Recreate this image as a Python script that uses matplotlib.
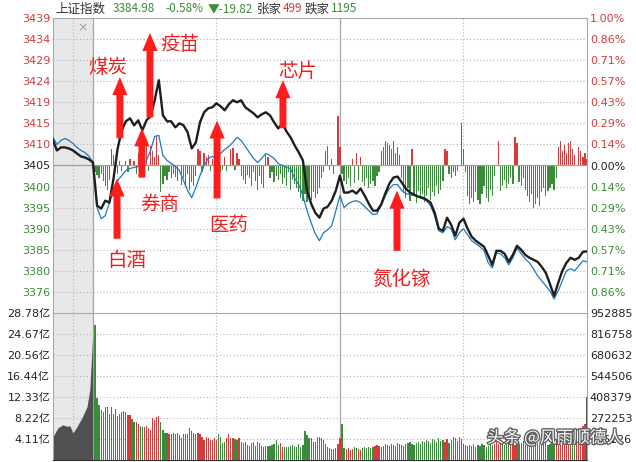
import matplotlib.pyplot as plt
import matplotlib.patheffects as pe
import numpy as np

plt.rcParams['font.family'] = ['DejaVu Sans', 'Noto Sans CJK SC']
CJK = ['Noto Sans CJK SC', 'DejaVu Sans']

RED = '#d63a3a'
GREEN = '#3a8c3a'
GRID = '#b4b4b4'
BORDER = '#a8a8a8'

prev_close = 3404.80
close = 3384.98
chg_pct = -0.58
chg = -19.82
up_count = 499
down_count = 1195

# index (black) and unweighted average (blue), one sample every 2 minutes, 9:30 .. 15:00
price_min = list(range(0, 241, 2))
index_line = [
    3405.50, 3395.54, 3394.84, 3396.69, 3396.23, 3401.79, 3408.74, 3412.91, 3415.00, 3415.69,
    3414.07, 3415.23, 3412.91, 3415.23, 3416.15, 3419.86, 3424.49, 3416.38, 3415.00, 3415.00,
    3413.60, 3414.53, 3414.07, 3412.45, 3408.74, 3410.13, 3414.76, 3417.08, 3418.00, 3418.24,
    3419.16, 3418.47, 3417.54, 3418.93, 3419.86, 3419.39, 3419.86, 3418.24, 3417.54, 3416.85,
    3415.92, 3416.61, 3417.08, 3416.38, 3414.76, 3413.37, 3414.53, 3412.68, 3411.29, 3409.43,
    3407.81, 3405.96, 3399.01, 3396.00, 3393.91, 3392.75, 3394.84, 3395.30, 3396.69, 3399.01,
    3402.48, 3398.55, 3398.55, 3399.01, 3398.32, 3399.48, 3397.85, 3396.00, 3394.38, 3394.38,
    3395.77, 3398.32, 3400.63, 3402.02, 3402.25, 3400.86, 3399.48, 3398.55, 3398.08, 3397.62,
    3397.39, 3396.93, 3396.23, 3393.91, 3390.21, 3389.74, 3392.75, 3391.13, 3388.59, 3391.60,
    3392.53, 3390.21, 3388.35, 3387.43, 3386.73, 3386.04, 3383.95, 3381.87, 3385.11, 3385.11,
    3384.42, 3382.57, 3384.19, 3386.27, 3385.35, 3384.19, 3383.50, 3383.03, 3382.57, 3381.41,
    3380.02, 3377.47, 3374.69, 3377.70, 3380.48, 3382.34, 3383.50, 3383.03, 3383.50, 3384.88,
    3384.98]
avg_line = [
    3405.50, 3395.07, 3392.53, 3393.22, 3396.23, 3399.01, 3401.33, 3402.48, 3403.64, 3404.11,
    3404.34, 3404.57, 3405.26, 3405.96, 3408.28, 3411.52, 3411.75, 3407.12, 3405.96, 3405.26,
    3404.57, 3403.64, 3401.33, 3399.01, 3397.39, 3399.71, 3402.48, 3404.80, 3406.42, 3406.89,
    3406.65, 3407.58, 3408.51, 3409.20, 3410.13, 3411.29, 3410.59, 3409.20, 3407.81, 3406.42,
    3405.50, 3406.42, 3407.58, 3407.12, 3406.42, 3405.26, 3404.80, 3404.34, 3404.11, 3401.79,
    3400.40, 3397.85, 3394.38, 3391.60, 3389.05, 3387.43, 3389.28, 3389.98, 3390.91, 3394.38,
    3397.85, 3395.07, 3396.00, 3396.46, 3396.69, 3396.23, 3395.30, 3394.38, 3393.45, 3393.68,
    3395.54, 3397.85, 3399.48, 3400.40, 3400.40, 3399.01, 3398.32, 3398.08, 3397.85, 3397.62,
    3397.16, 3396.69, 3395.54, 3393.22, 3389.74, 3389.28, 3390.67, 3390.21, 3387.66, 3389.28,
    3390.21, 3388.82, 3387.43, 3386.73, 3386.04, 3385.11, 3382.34, 3381.17, 3384.65, 3384.42,
    3383.50, 3381.87, 3383.50, 3385.81, 3384.42, 3383.26, 3382.34, 3380.95, 3379.33, 3378.17,
    3377.00, 3375.85, 3373.99, 3375.85, 3378.17, 3380.48, 3380.95, 3380.48, 3381.63, 3382.79,
    3382.56]

# call auction area (grey zone before 9:30)
pre_min = [-19.4, -17.5, -15.5, -13.6, -11.7, -9.7, -7.8, -5.8, -3.9, -1.9]
pre_index = [3410.59, 3408.28, 3408.97, 3408.97, 3408.74, 3408.28, 3407.58, 3406.89, 3406.65, 3406.19]
pre_avg = [3411.29, 3409.66, 3410.59, 3411.05, 3410.59, 3409.89, 3408.97, 3408.28, 3407.81, 3406.89]
pre_vol_min = [-19.4, -17.0, -14.6, -12.6, -11.2, -9.7, -7.8, -5.3, -2.9, -1.5, -0.15]
pre_vol = [4.6, 6.3, 6.9, 6.6, 6.7, 5.3, 6.5, 8.3, 10.4, 13.8, 24.3]

# buy/sell strength bars per minute (arbitrary units)
strength = [
    -6, -9, -12, -8, -15, -20, -24, -14, 16, 10,
    6, -8, 4, -5, 0, 4, -6, 6, 0, 4,
    -8, 12, -6, 15, 18, 25, -5, 19, 14, 8,
    29, 10, -26, -18, -10, -14, -6, -12, -8, -11,
    -15, 0, -19, -12, -21, -8, -24, -16, -20, -10,
    16, 14, -6, 12, 8, 10, -5, 6, 0, -8,
    5, -6, -4, 8, -5, 0, 16, 17, -4, 12,
    6, -10, -14, -18, -9, -12, -20, -6, -15, -24,
    -10, -18, -22, 10, 8, -12, -6, -16, -10, -14,
    -8, -18, -12, -20, -6, -24, -14, -18, -22, -26,
    -32, -35, -28, -36, -30, -34, -26, -32, -28, -22,
    -12, -6, 14, 19, -4, 6, -8, 0, 49, 18,
    -8, -15, -18, -12, -20, 6, -17, 12, -14, 8,
    -16, -20, -12, -22, -18, -15, -20, -10, -6, 14,
    18, 24, 22, 20, 16, 24, 12, 18, 10, -12,
    -27, -32, -22, -35, 16, -30, -37, -25, -33, -28,
    -36, -30, -22, -34, -26, -30, -20, -28, -24, -15,
    16, 14, -8, -12, -6, -10, -5, 0, 42, 16,
    -6, -30, -38, -32, -36, -26, -34, -38, -28, -20,
    -32, -36, -24, -30, -10, 0, 24, -25, -20, -14,
    -22, -18, -12, -18, 28, 22, -16, -20, -12, -24,
    -30, -36, -28, -42, -38, -32, -40, -26, -22, -30,
    -25, -22, -18, -24, -12, 18, 24, 14, 20, 12,
    22, 24, 16, 10, 0, 18, 14, 8, 12, 6]

# turnover per minute, 亿
volume = [
    26.4, 12.2, 10.8, 9.7, 9.3, 10.4, 10.4, 9.1, 10.4, 9.1,
    9.9, 8.7, 9.1, 9.3, 9.5, 9.3, 8.9, 8.9, 8.1, 7.5,
    7.5, 7.1, 6.6, 6.4, 6.4, 6.7, 6.2, 5.9, 8.2, 7.9,
    8.4, 8.7, 7.5, 5.9, 5.3, 5.3, 5.0, 5.0, 5.3, 5.0,
    5.3, 4.8, 4.3, 5.0, 5.0, 5.0, 6.2, 5.6, 5.3, 5.0,
    5.3, 5.0, 4.6, 3.9, 4.6, 4.3, 3.9, 3.9, 4.3, 3.9,
    5.1, 4.6, 3.4, 3.6, 4.3, 5.0, 4.3, 4.3, 4.1, 3.9,
    4.3, 3.6, 3.4, 3.6, 3.0, 2.8, 3.4, 3.6, 2.8, 3.6,
    3.4, 2.8, 2.6, 2.8, 2.8, 2.8, 3.0, 3.2, 3.9, 3.0,
    3.4, 2.6, 2.6, 2.6, 2.6, 2.8, 3.0, 2.8, 2.6, 3.2,
    2.6, 3.0, 5.7, 4.9, 4.3, 4.3, 3.6, 3.6, 4.6, 4.6,
    4.3, 3.9, 3.2, 2.6, 2.4, 2.2, 2.2, 2.4, 3.2, 4.3,
    7.1, 2.3, 2.2, 2.4, 2.0, 2.2, 2.6, 2.4, 2.2, 2.0,
    2.4, 2.6, 2.4, 2.6, 2.4, 2.6, 2.8, 3.0, 2.8, 2.6,
    2.8, 3.2, 3.0, 2.8, 3.2, 3.0, 2.8, 3.4, 3.2, 3.0,
    2.8, 3.2, 3.4, 3.6, 3.2, 3.0, 3.4, 3.6, 3.2, 3.8,
    3.6, 4.0, 3.8, 3.4, 4.2, 4.0, 3.6, 4.4, 3.8, 4.0,
    3.6, 4.2, 3.4, 4.0, 4.6, 4.4, 3.8, 4.6, 4.2, 3.2,
    3.0, 2.8, 3.0, 2.8, 3.2, 2.6, 3.0, 2.8, 3.2, 3.0,
    2.6, 2.8, 3.4, 3.0, 3.2, 3.6, 3.2, 3.8, 3.4, 3.0,
    3.6, 3.8, 3.2, 3.4, 3.0, 3.6, 3.2, 3.4, 3.8, 3.0,
    3.2, 3.6, 3.4, 3.0, 3.2, 3.4, 3.0, 3.2, 3.6, 3.4,
    3.0, 3.2, 3.8, 3.4, 3.6, 3.2, 3.0, 3.4, 3.6, 4.0,
    4.6, 3.8, 5.0, 4.2, 5.6, 4.8, 6.2, 6.6, 7.1, 12.4]

left_labels = ['3439', '3434', '3429', '3424', '3419', '3415', '3410', '3405',
               '3400', '3395', '3390', '3385', '3380', '3376']
right_labels = ['1.00%', '0.86%', '0.71%', '0.57%', '0.43%', '0.29%', '0.14%', '0.00%',
                '0.14%', '0.29%', '0.43%', '0.57%', '0.71%', '0.86%']
vol_left = ['28.78亿', '24.67亿', '20.56亿', '16.44亿', '12.33亿', '8.22亿', '4.11亿']
vol_right = ['952885', '816758', '680632', '544506', '408379', '272253', '136126']
vol_top = 28.78

# label, arrow minute, arrow base, arrow tip, text minute, text price
notes = [
    ('煤炭', 13.1, 3411.1, 3425.2, 7.3, 3427.5),
    ('疫苗', 27.7, 3415.9, 3435.4, 42.3, 3432.8),
    ('芯片', 92.3, 3413.4, 3424.5, 99.6, 3426.6),
    ('券商', 23.8, 3402.0, 3413.4, 32.6, 3395.8),
    ('白酒', 11.7, 3387.9, 3401.8, 16.5, 3382.8),
    ('医药', 60.3, 3397.2, 3415.2, 66.1, 3390.9),
    ('氮化镓', 147.7, 3385.1, 3399.0, 149.7, 3378.6),
]

W, H = 636, 462
fig = plt.figure(figsize=(W / 100, H / 100), dpi=100)


def box(l, t, r, b):
    return [l / W, 1 - b / H, (r - l) / W, (b - t) / H]


ax = fig.add_axes(box(53, 18, 587, 313))
axv = fig.add_axes(box(53, 313, 587, 460))
x0, x1 = -19.4, 240
dotted = (0, (1, 2))

# ---- price panel
span = prev_close * 0.01
ax.set_xlim(x0, x1)
ax.set_ylim(prev_close - span, prev_close + span)
ticks = [prev_close + span * (7 - i) / 7 for i in range(14)]
ax.axvspan(x0, 0, color='#e8e8e8', zorder=0, lw=0)
for t in ticks[1:]:
    if abs(t - prev_close) > 0.01:
        ax.axhline(t, color=GRID, lw=0.8, ls=dotted, zorder=1)
for v in [-9.7, 60, 180]:
    ax.axvline(v, color=GRID, lw=0.8, ls=dotted, zorder=1)
for v in [0, 120]:
    ax.axvline(v, color=BORDER, lw=0.9, zorder=1)

bar_min = np.arange(1, 241)
scale = span / 147.0
s = np.array(strength)
ax.bar(bar_min, s * scale, bottom=prev_close, width=0.6,
       color=[RED if v > 0 else GREEN for v in s], lw=0, zorder=2, antialiased=False)
ax.axhline(prev_close, color='#a0a0a0', lw=0.9, zorder=2)

ax.plot(pre_min + price_min, pre_avg + avg_line, color='#1c78c0', lw=0.9, zorder=4)
ax.plot(pre_min + price_min, pre_index + index_line, color='#1e1e1e', lw=1.7, zorder=5)

for label, am, a0, a1, tm, tp in notes:
    ax.annotate('', xy=(am, a1), xytext=(am, a0),
                arrowprops=dict(arrowstyle='simple,head_length=1.3,head_width=1.1,tail_width=0.5',
                                color='#ff1c1c', lw=0, shrinkA=0, shrinkB=0, mutation_scale=10),
                zorder=6)
    ax.text(tm, tp, label, family=CJK, fontsize=14, color='#f02020',
            ha='center', va='center', zorder=6)
ax.text(-4.9, 3436.5, '×', color='#a0a0a0', fontsize=9, ha='center', va='center')

ax.set_xticks([])
ax.set_yticks(ticks)
ax.set_yticklabels(left_labels, fontsize=8)
ax.tick_params(axis='y', length=0, pad=2)
for i, lab in enumerate(ax.get_yticklabels()):
    lab.set_color(RED if i < 7 else ('#222222' if i == 7 else GREEN))
for side in ['top', 'left', 'right']:
    ax.spines[side].set_color(BORDER)
ax.spines['bottom'].set_visible(False)

axr = ax.twinx()
axr.set_ylim(-1, 1)
axr.set_yticks([(7 - i) / 7 for i in range(14)])
axr.set_yticklabels(right_labels, fontsize=8)
axr.tick_params(axis='y', length=0, pad=2)
for i, lab in enumerate(axr.get_yticklabels()):
    lab.set_color(RED if i < 7 else ('#222222' if i == 7 else GREEN))
for side in axr.spines:
    axr.spines[side].set_visible(False)

# ---- volume panel
axv.set_xlim(x0, x1)
axv.set_ylim(0, vol_top)
axv.axvspan(x0, 0, color='#e8e8e8', zorder=0, lw=0)
vticks = [vol_top * (7 - i) / 7 for i in range(7)]
for t in vticks[1:]:
    axv.axhline(t, color=GRID, lw=0.8, ls=dotted, zorder=1)
for v in [-9.7, 60, 180]:
    axv.axvline(v, color=GRID, lw=0.8, ls=dotted, zorder=1)
for v in [0, 120]:
    axv.axvline(v, color=BORDER, lw=0.9, zorder=1)

axv.fill_between(pre_vol_min, pre_vol, color='#505050', lw=0, zorder=2)
idx = np.array(index_line)
vol_colors = []
for m in bar_min:
    k = (m - 1) // 2
    vol_colors.append(RED if idx[k + 1] >= idx[k] else GREEN)
vol_colors[-1] = '#505050'
axv.bar(bar_min, volume, width=0.6, color=vol_colors, lw=0, zorder=3, antialiased=False)

axv.set_xticks([])
axv.set_yticks(vticks)
axv.set_yticklabels(vol_left, fontsize=8, color='#222222')
axv.tick_params(axis='y', length=0, pad=2)
for side in ['top', 'left', 'right']:
    axv.spines[side].set_color(BORDER)
axv.spines['bottom'].set_color('#333333')

axvr = axv.twinx()
axvr.set_ylim(0, vol_top)
axvr.set_yticks(vticks)
axvr.set_yticklabels(vol_right, fontsize=8, color='#222222')
axvr.tick_params(axis='y', length=0, pad=2)
for side in axvr.spines:
    axvr.spines[side].set_visible(False)

# ---- header row
ty = 1 - 9 / H
parts = [
    (55, '上证指数', '#333333', 9),
    (113, f'{close:.2f}', GREEN, 8.5),
    (165, f'{chg_pct:.2f}%', GREEN, 8.5),
    (208, f'▼{chg:.2f}', GREEN, 8.5),
    (257, '张家', '#333333', 9),
    (283, str(up_count), RED, 8.5),
    (305, '跌家', '#333333', 9),
    (331, str(down_count), GREEN, 8.5),
]
for px, txt, col, fs in parts:
    fig.text(px / W, ty, txt, fontsize=fs, color=col, ha='left', va='center', family=CJK)

fig.text(487 / W, 1 - 438 / H, '头条 @风雨顺德人', family=CJK, fontsize=12, color='white',
         ha='left', va='center',
         path_effects=[pe.withStroke(linewidth=2, foreground='#606060')])

fig.savefig('out.png', dpi=100)
